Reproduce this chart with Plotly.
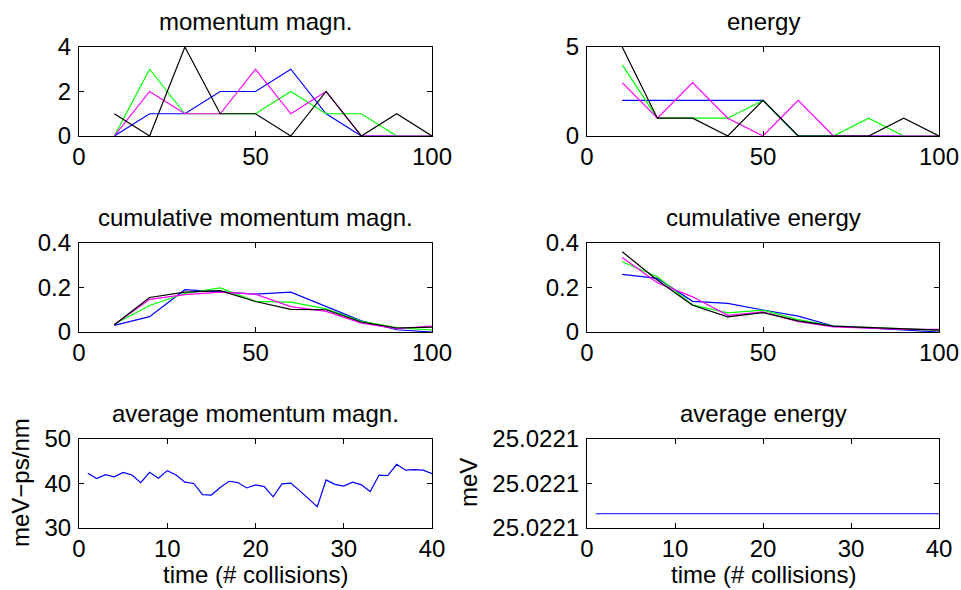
import plotly.graph_objects as go

# x positions
BINS = [10, 20, 30, 40, 50, 60, 70, 80, 90, 100]
TIME = [1, 2, 3, 4, 5, 6, 7, 8, 9, 10, 11, 12, 13, 14, 15, 16, 17, 18, 19, 20,
        21, 22, 23, 24, 25, 26, 27, 28, 29, 30, 31, 32, 33, 34, 35, 36, 37, 38, 39, 40]

# histograms per run (blue, green, magenta, black)
MOMENTUM_BLUE = [0, 1, 1, 2, 2, 3, 1, 0, 0, 0]
MOMENTUM_GREEN = [0, 3, 1, 1, 1, 2, 1, 1, 0, 0]
MOMENTUM_MAGENTA = [0, 2, 1, 1, 3, 1, 2, 0, 0, 0]
MOMENTUM_BLACK = [1, 0, 4, 1, 1, 0, 2, 0, 1, 0]

ENERGY_BLUE = [2, 2, 2, 2, 2, 0, 0, 0, 0, 0]
ENERGY_GREEN = [4, 1, 1, 1, 2, 0, 0, 1, 0, 0]
ENERGY_MAGENTA = [3, 1, 3, 1, 0, 2, 0, 0, 0, 0]
ENERGY_BLACK = [5, 1, 1, 0, 2, 0, 0, 0, 1, 0]

CUM_MOMENTUM_BLUE = [0.030, 0.069, 0.190, 0.180, 0.170, 0.179, 0.116, 0.050, 0.010, 0.000]
CUM_MOMENTUM_GREEN = [0.035, 0.119, 0.173, 0.198, 0.138, 0.134, 0.104, 0.048, 0.020, 0.009]
CUM_MOMENTUM_MAGENTA = [0.033, 0.147, 0.168, 0.179, 0.170, 0.114, 0.093, 0.040, 0.015, 0.027]
CUM_MOMENTUM_BLACK = [0.033, 0.155, 0.179, 0.186, 0.137, 0.102, 0.100, 0.045, 0.018, 0.022]

CUM_ENERGY_BLUE = [0.259, 0.241, 0.138, 0.129, 0.099, 0.071, 0.027, 0.018, 0.009, 0.000]
CUM_ENERGY_GREEN = [0.316, 0.248, 0.122, 0.086, 0.098, 0.056, 0.027, 0.021, 0.014, 0.008]
CUM_ENERGY_MAGENTA = [0.335, 0.221, 0.158, 0.075, 0.090, 0.047, 0.023, 0.017, 0.012, 0.012]
CUM_ENERGY_BLACK = [0.361, 0.233, 0.120, 0.068, 0.087, 0.050, 0.026, 0.020, 0.012, 0.008]

AVG_MOMENTUM = [42.3, 41.1, 42.0, 41.5, 42.5, 41.9, 40.2, 42.5, 41.2, 42.9,
                41.9, 40.3, 40.0, 37.5, 37.4, 39.1, 40.5, 40.2, 39.0, 39.7,
                39.3, 37.0, 39.9, 40.1, 38.4, 36.6, 34.8, 40.8, 39.8, 39.4,
                40.3, 39.7, 38.2, 41.9, 41.8, 44.3, 43.0, 43.1, 43.0, 42.2]
AVG_ENERGY = [25.0221032, 25.0221032, 25.0221032, 25.0221032, 25.0221032,
              25.0221032, 25.0221032, 25.0221032, 25.0221032, 25.0221032,
              25.0221032, 25.0221032, 25.0221032, 25.0221032, 25.0221032,
              25.0221032, 25.0221032, 25.0221032, 25.0221032, 25.0221032,
              25.0221032, 25.0221032, 25.0221032, 25.0221032, 25.0221032,
              25.0221032, 25.0221032, 25.0221032, 25.0221032, 25.0221032,
              25.0221032, 25.0221032, 25.0221032, 25.0221032, 25.0221032,
              25.0221032, 25.0221032, 25.0221032, 25.0221032, 25.0221032]

TITLES = ["momentum magn.", "energy",
          "cumulative momentum magn.", "cumulative energy",
          "average momentum magn.", "average energy"]
X_TITLE = "time (# collisions)"
Y_TITLES = {5: "meV\u2212ps/nm", 6: "meV"}

RUN_COLORS = ["#0000FF", "#00FF00", "#FF00FF", "#000000"]

W, H = 961, 590
FONT = "Liberation Sans, Arial, Helvetica, sans-serif"
FS = 24

# plot boxes in pixels
COL_PX = [(79, 432), (587, 939)]
ROW_PX = [(47, 136), (243, 332), (439, 528)]


def _xdom(col):
    a, b = COL_PX[col]
    return [a / W, b / W]


def _ydom(row):
    top, bot = ROW_PX[row]
    return [1 - bot / H, 1 - top / H]


panels = [
    dict(series=[MOMENTUM_BLUE, MOMENTUM_GREEN, MOMENTUM_MAGENTA, MOMENTUM_BLACK],
         x=BINS, xr=[0, 100], xt=[0, 50, 100], yr=[0, 4], yt=[0, 2, 4]),
    dict(series=[ENERGY_BLUE, ENERGY_GREEN, ENERGY_MAGENTA, ENERGY_BLACK],
         x=BINS, xr=[0, 100], xt=[0, 50, 100], yr=[0, 5], yt=[0, 5]),
    dict(series=[CUM_MOMENTUM_BLUE, CUM_MOMENTUM_GREEN, CUM_MOMENTUM_MAGENTA, CUM_MOMENTUM_BLACK],
         x=BINS, xr=[0, 100], xt=[0, 50, 100], yr=[0, 0.4], yt=[0, 0.2, 0.4]),
    dict(series=[CUM_ENERGY_BLUE, CUM_ENERGY_GREEN, CUM_ENERGY_MAGENTA, CUM_ENERGY_BLACK],
         x=BINS, xr=[0, 100], xt=[0, 50, 100], yr=[0, 0.4], yt=[0, 0.2, 0.4]),
    dict(series=[AVG_MOMENTUM], x=TIME, xr=[0, 40], xt=[0, 10, 20, 30, 40],
         yr=[30, 50], yt=[30, 40, 50]),
    dict(series=[AVG_ENERGY], x=TIME, xr=[0, 40], xt=[0, 10, 20, 30, 40],
         yr=[25.02210, 25.02212], yt=[25.02210, 25.02211, 25.02212], fmt=".4f"),
]

fig = go.Figure()
layout = dict(
    width=W, height=H,
    margin=dict(l=0, r=0, t=0, b=0),
    paper_bgcolor="white", plot_bgcolor="white",
    showlegend=False,
    font=dict(family=FONT, size=FS, color="black"),
)
annotations = []

for i, p in enumerate(panels, start=1):
    row, col = (i - 1) // 2, (i - 1) % 2
    xa, ya = f"x{i}", f"y{i}"
    for k, ys in enumerate(p["series"]):
        fig.add_trace(go.Scatter(
            x=p["x"], y=ys, mode="lines",
            line=dict(color=RUN_COLORS[k], width=1.2),
            xaxis=xa, yaxis=ya, hoverinfo="skip",
        ))
    common = dict(
        showline=True, linecolor="black", linewidth=1.2, mirror="ticks",
        ticks="inside", ticklen=5, tickwidth=1, tickcolor="black",
        showgrid=False, zeroline=False, automargin=False,
        tickfont=dict(family=FONT, size=FS, color="black"),
    )
    layout[f"xaxis{i}"] = dict(
        common, domain=_xdom(col), anchor=ya, range=p["xr"],
        tickmode="array", tickvals=p["xt"], ticklabelstandoff=-1,
    )
    layout[f"yaxis{i}"] = dict(
        common, domain=_ydom(row), anchor=xa, range=p["yr"],
        tickmode="array", tickvals=p["yt"], tickformat=p.get("fmt", ""),
        ticklabelstandoff=2,
    )
    # panel title
    annotations.append(dict(
        text=TITLES[i - 1], xref="paper", yref="paper",
        x=sum(_xdom(col)) / 2, y=_ydom(row)[1], yshift=10,
        xanchor="center", yanchor="bottom", showarrow=False,
        font=dict(family=FONT, size=FS, color="black"),
    ))
    if row == 2:
        annotations.append(dict(
            text=X_TITLE, xref="paper", yref="paper",
            x=sum(_xdom(col)) / 2, y=0,
            xanchor="center", yanchor="bottom", showarrow=False,
            font=dict(family=FONT, size=FS, color="black"),
        ))
    if i in Y_TITLES:
        annotations.append(dict(
            text=Y_TITLES[i], xref="paper", yref="paper",
            x=(20 if i == 5 else 468) / W, y=1 - 483 / H, textangle=-90,
            xanchor="center", yanchor="middle", showarrow=False,
            font=dict(family=FONT, size=FS, color="black"),
        ))

layout["annotations"] = annotations
fig.update_layout(**layout)
# the page body has a default 8px margin; drop it so the figure fills the window
fig.write_html(
    "out.html",
    config={"displayModeBar": False},
    post_script="document.body.style.margin = '0';",
)
